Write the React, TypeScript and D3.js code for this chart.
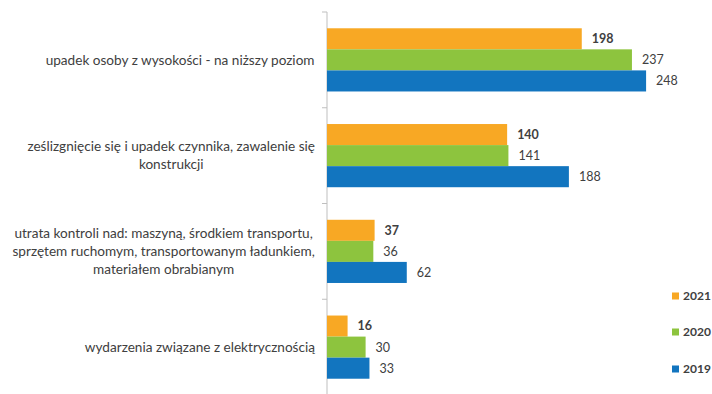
import React, { useMemo } from "react";
import * as d3 from "d3";

const categories = [
  ["upadek osoby z wysokości - na niższy poziom"],
  ["ześlizgnięcie się i upadek czynnika, zawalenie się", "konstrukcji"],
  ["utrata kontroli nad: maszyną, środkiem transportu,", "sprzętem ruchomym, transportowanym ładunkiem,", "materiałem obrabianym"],
  ["wydarzenia związane z elektrycznością"],
];
const series = ["2021", "2020", "2019"];
const values2021 = [198, 140, 37, 16];
const values2020 = [237, 141, 36, 30];
const values2019 = [248, 188, 62, 33];
const colors = ["#F8A824", "#8DC43E", "#1275BF"];

const W = 712;
const H = 394;
const FONT = "Lato, 'Liberation Sans', sans-serif";
const LABEL_SIZE = 13.6;

export default function App() {
  const data = [values2021, values2020, values2019];
  const catIdx = categories.map((_, i) => String(i));
  const x = d3.scaleLinear().domain([0, 300]).range([327, 713]);
  const y0 = d3.scaleBand().domain(catIdx).range([12, 395]).paddingInner(0.34).paddingOuter(0.17);
  const y1 = d3.scaleBand().domain(series).range([0, y0.bandwidth()]);
  const step = y0.step();

  const measure = useMemo(() => {
    const c = document.createElement("canvas").getContext("2d");
    return (t: string) => {
      if (!c) return t.length * 6.2;
      c.font = `${LABEL_SIZE}px ${FONT}`;
      return c.measureText(t).width;
    };
  }, []);

  return (
    <svg width={W} height={H} style={{ position: "absolute", left: 0, top: 0, background: "#fff" }}>
      {/* axis */}
      <line x1={327} x2={327} y1={12} y2={H} stroke="#BFBFBF" strokeWidth={1} />
      {d3.range(categories.length + 1).map((i) => (
        <line key={i} x1={322} x2={327} y1={12 + i * step} y2={12 + i * step} stroke="#BFBFBF" />
      ))}
      {/* bars */}
      {catIdx.map((c, ci) =>
        series.map((s, si) => {
          const v = data[si][ci];
          const yy = (y0(c) ?? 0) + (y1(s) ?? 0);
          return (
            <g key={c + s}>
              <rect x={x(0)} y={yy} width={x(v) - x(0)} height={y1.bandwidth()} fill={colors[si]} />
              <text
                x={x(v) + 10}
                y={yy + y1.bandwidth() / 2}
                dy="0.35em"
                fontFamily={FONT}
                fontSize={12.5}
                fontWeight={si === 0 ? 700 : 400}
                fill="#404040"
              >
                {v}
              </text>
            </g>
          );
        })
      )}
      {/* category labels */}
      {categories.map((lines, ci) => {
        const maxW = Math.max(...lines.map(measure));
        const cx = 315 - maxW / 2;
        const cy = (y0(String(ci)) ?? 0) + y0.bandwidth() / 2;
        const lh = 18;
        return (
          <text key={ci} fontFamily={FONT} fontSize={LABEL_SIZE} fill="#404040" textAnchor="middle">
            {lines.map((l, li) => (
              <tspan key={li} x={cx} y={cy + (li - (lines.length - 1) / 2) * lh} dy="0.35em">
                {l}
              </tspan>
            ))}
          </text>
        );
      })}
      {/* legend */}
      {series.map((s, si) => {
        const ly = [296, 332, 369][si];
        return (
          <g key={s}>
            <rect x={672} y={ly - 3.5} width={7} height={7} fill={colors[si]} />
            <text x={683} y={ly} dy="0.35em" fontFamily={FONT} fontSize={12} fontWeight={700} fill="#404040">
              {s}
            </text>
          </g>
        );
      })}
    </svg>
  );
}
